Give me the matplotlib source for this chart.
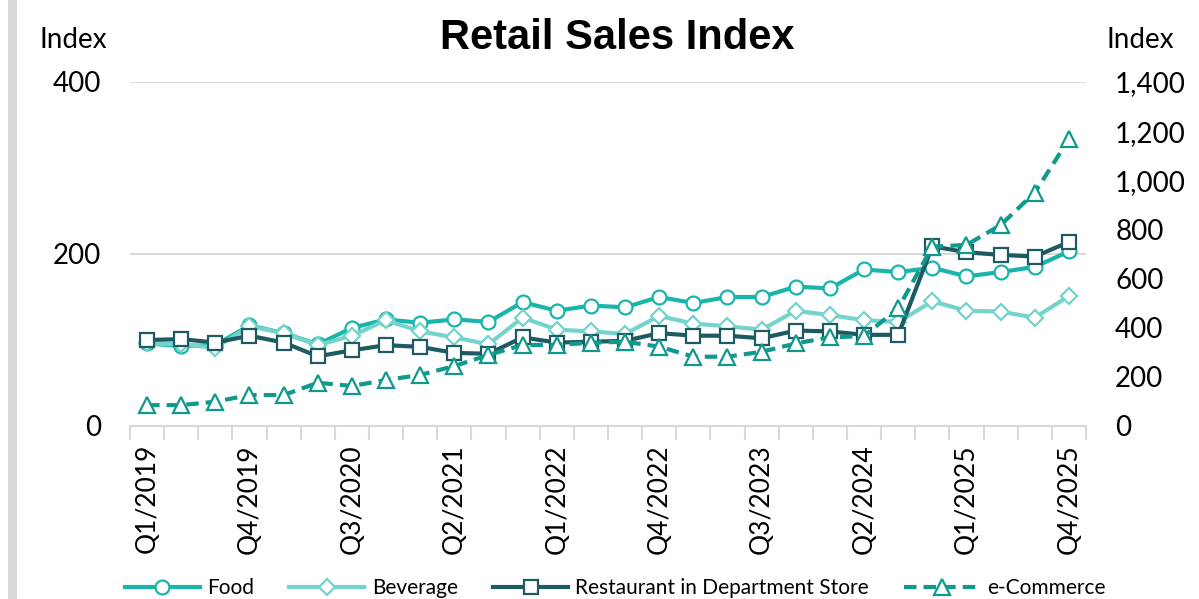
import matplotlib
matplotlib.use("Agg")
import matplotlib.pyplot as plt
from matplotlib.ticker import FuncFormatter, FixedLocator
from matplotlib.patches import Rectangle

quarters = [f"Q{q}/{y}" for y in range(2019, 2026) for q in range(1, 5)]

food = [96, 93, 94, 117, 108, 95, 114, 124, 120, 124, 121, 144,
        134, 140, 138, 150, 143, 150, 150, 162, 160, 182, 179, 184,
        174, 179, 185, 203]
beverage = [96, 95, 91, 116, 108, 94, 105, 123, 110, 103, 95, 126,
            112, 110, 107, 128, 119, 116, 112, 134, 129, 123, 121, 145,
            134, 133, 126, 151]
restaurant = [100, 101, 97, 105, 97, 81, 88, 94, 92, 85, 84, 103,
              97, 98, 99, 108, 105, 105, 102, 111, 110, 106, 106, 209,
              202, 199, 197, 214]
ecommerce = [85, 85, 99, 126, 126, 176, 163, 187, 208, 244, 289, 330,
             330, 339, 343, 323, 282, 282, 302, 336, 361, 366, 479, 730,
             737, 818, 950, 1167]

series_labels = ["Food", "Beverage", "Restaurant in Department Store", "e-Commerce"]
left_ticks = [0, 200, 400]
right_ticks = [0, 200, 400, 600, 800, 1000, 1200, 1400]

c_food = "#19B4AA"
c_bev = "#74D3CA"
c_rest = "#1E5A61"
c_ecom = "#10998D"
grid_c = "#D9D9D9"
txt_font = ["Lato", "DejaVu Sans"]

fig = plt.figure(figsize=(11.99, 5.99), dpi=100)
ax = fig.add_axes([130/1199, 1-426/599, (1086-130)/1199, (426-82)/599])
ax2 = ax.twinx()

x = list(range(len(quarters)))
lw = 3
ms = 9
mew = 1.6
ax.plot(x, food, color=c_food, lw=lw, marker="o", ms=ms+1, mfc="white", mec=c_food, mew=mew, label=series_labels[0], zorder=3)
ax.plot(x, beverage, color=c_bev, lw=lw, marker="D", ms=ms-1, mfc="white", mec=c_bev, mew=mew, label=series_labels[1], zorder=4)
ax.plot(x, restaurant, color=c_rest, lw=lw, marker="s", ms=ms+1, mfc="white", mec=c_rest, mew=mew, label=series_labels[2], zorder=5)
ax2.plot(x, ecommerce, color=c_ecom, lw=lw, ls=(0, (3.0, 1.7)), marker="^", ms=ms+2, mfc="white", mec=c_ecom, mew=mew, label=series_labels[3], zorder=6)

ax.set_xlim(-0.5, len(quarters)-0.5)
ax.set_ylim(0, 400)
ax2.set_ylim(0, 1400)
ax.set_yticks(left_ticks)
ax2.set_yticks(right_ticks)
ax2.yaxis.set_major_formatter(FuncFormatter(lambda v, p: f"{int(v):,}"))

for a in (ax, ax2):
    for s in ("top", "right", "left"):
        a.spines[s].set_visible(False)
    a.tick_params(axis="y", length=0)
ax.spines["bottom"].set_color(grid_c)
ax.spines["bottom"].set_linewidth(1.5)
ax2.spines["bottom"].set_visible(False)

ax.yaxis.grid(True, color=grid_c, lw=1.5)
ax.set_axisbelow(True)

# x ticks: labels every 3 quarters, tick marks at category boundaries
ax.set_xticks(x[::3])
ax.set_xticklabels(quarters[::3], rotation=90, fontsize=19, family=txt_font)
ax.tick_params(axis="x", which="major", length=0, pad=13)
ax.xaxis.set_minor_locator(FixedLocator([i - 0.5 for i in range(len(quarters)+1)]))
ax.tick_params(axis="x", which="minor", length=10, width=1.5, color=grid_c)

ax.tick_params(axis="y", labelsize=20, pad=21)
ax2.tick_params(axis="y", labelsize=20, pad=21)
for lab in ax.get_yticklabels() + ax2.get_yticklabels():
    lab.set_family(txt_font)

fig.text(73/1199, 1-40/599, "Index", ha="center", va="center", fontsize=20, family=txt_font)
fig.text(1140/1199, 1-40/599, "Index", ha="center", va="center", fontsize=20, family=txt_font)
fig.text(617/1199, 1-38/599, "Retail Sales Index", ha="center", va="center", fontsize=30,
         fontweight="bold", family=["Liberation Sans", "DejaVu Sans"])

h1, l1 = ax.get_legend_handles_labels()
h2, l2 = ax2.get_legend_handles_labels()
fig.legend(h1 + h2, l1 + l2, loc="center", bbox_to_anchor=(615/1199, 1-588/599), ncol=4,
           frameon=False, handlelength=3.6, handletextpad=0.35, columnspacing=1.7,
           numpoints=1, prop={"family": txt_font, "size": 15})

fig.add_artist(Rectangle((8/1199, 0), 9/1199, 1, transform=fig.transFigure, color=grid_c, lw=0))

fig.savefig("out.png", dpi=100)
